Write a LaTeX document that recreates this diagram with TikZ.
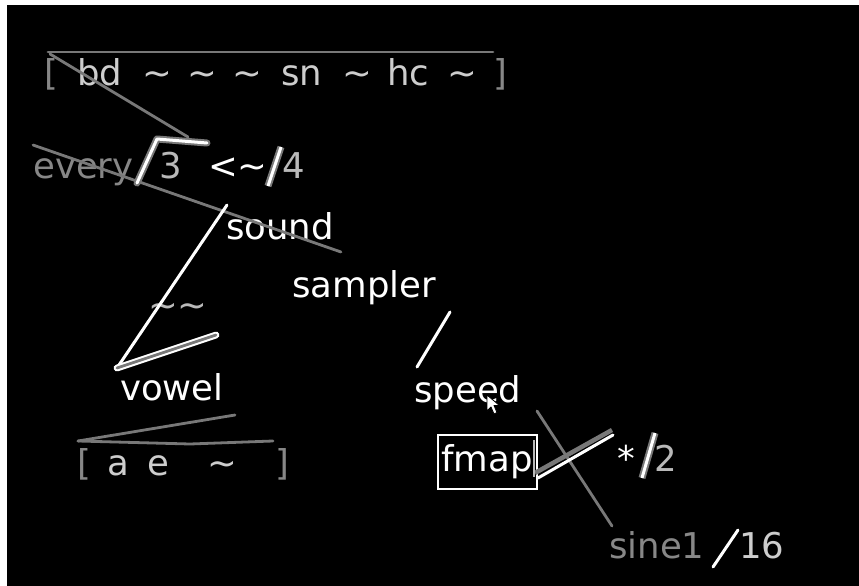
\documentclass[tikz,border=0pt]{standalone}
\usepackage{fontspec}
\setmainfont{DejaVu Sans}
\definecolor{lineg}{RGB}{120,120,120}
\definecolor{dimg}{RGB}{135,135,135}
\definecolor{midg}{RGB}{185,185,185}
\definecolor{lightg}{RGB}{205,205,205}
\tikzset{
  txt/.style={inner sep=0pt, anchor=base west, text=white, font=\fontsize{35.5}{40}\selectfont},
  dimtxt/.style={txt, text=dimg},
  midtxt/.style={txt, text=midg},
  lighttxt/.style={txt, text=lightg},
  gline/.style={draw=lineg, line width=2.8pt, line cap=round},
  wline/.style={draw=white, line width=3pt, line cap=round},
  dbl/.style={draw=lineg, line width=2pt, double=white, double distance=3pt},
  dblg/.style={draw=white, line width=2pt, double=lineg, double distance=2.8pt},
}
\begin{document}
\begin{tikzpicture}[x=1pt,y=-1pt]
\useasboundingbox (0,0) rectangle (859,586);
\fill[white] (0,0) rectangle (859,586);
\fill[black] (7,5) rectangle (859,586);

% top pattern
\node[dimtxt] (lb1) at (44,85) {[};
\node[lighttxt] (bd) at (77,85) {bd};
\node[lighttxt] (t1) at (142,85) {\char`\~};
\node[lighttxt] (t2) at (187,85) {\char`\~};
\node[lighttxt] (t3) at (232,85) {\char`\~};
\node[lighttxt] (sn) at (281,85) {sn};
\node[lighttxt] (t4) at (342,85) {\char`\~};
\node[lighttxt] (hc) at (387,85) {hc};
\node[lighttxt] (t5) at (447,85) {\char`\~};
\node[dimtxt] (rb1) at (493,85) {]};

% every row
\node[dimtxt] (every) at (33,178) {every};
\node[midtxt] (three) at (159,178) {3};
\node[txt] (lt) at (208,178) {<\char`\~};
\node[midtxt] (four) at (282,178) {4};

\node[txt] (sound) at (226,239) {sound};
\node[midtxt] (tt) at (148,317) {\char`\~\char`\~};
\node[txt] (sampler) at (292,297) {sampler};
\node[txt] (vowel) at (120,400) {vowel};
\node[txt] (speed) at (414,402) {speed};

\node[draw=white, line width=2pt, minimum width=99pt, minimum height=54pt, inner sep=0pt] (fbox) at (487.5,461.5) {};
\node[txt] (fmap) at (441,471) {fmap};
\node[txt] (star) at (617,471) {*};
\node[midtxt] (two) at (654,471) {2};

\node[dimtxt] (sine) at (609,558) {sine1};
\node[lighttxt] (sixteen) at (739,558) {16};

% bottom-left pattern
\node[dimtxt] (lb2) at (77,475) {[};
\node[lighttxt] (a) at (107,475) {a};
\node[lighttxt] (e) at (147,475) {e};
\node[lighttxt] (t6) at (207,475) {\char`\~};
\node[dimtxt] (rb2) at (275,475) {]};

% coordinates
\coordinate (p1) at (48,52);
\coordinate (p2) at (493,52);
\coordinate (p3) at (50,54);
\coordinate (h1) at (137,183);
\coordinate (h2) at (157,139);
\coordinate (h3) at (207,143);
\coordinate (h4) at (188,137);
\coordinate (s1) at (268,186);
\coordinate (s2) at (281,147);
\coordinate (q1) at (33,145);
\coordinate (q2) at (341,252);
\coordinate (v0) at (227,205);
\coordinate (v1) at (117,368);
\coordinate (v2) at (216,335);
\coordinate (r1) at (450,312);
\coordinate (r2) at (417,367);
\coordinate (c1) at (537,411);
\coordinate (c2) at (612,526);
\coordinate (m1) at (535,473);
\coordinate (m2) at (612,430);
\coordinate (n1) at (538,478);
\coordinate (n2) at (613,435);
\coordinate (k1) at (534,440);
\coordinate (k2) at (534,477);
\coordinate (d1) at (642,478);
\coordinate (d2) at (655,433);
\coordinate (u1) at (713,567);
\coordinate (u2) at (738,530);
\coordinate (b1) at (78,441);
\coordinate (b2) at (235,415);
\coordinate (b3) at (190,444);
\coordinate (b4) at (273,441);

% lines
\draw[gline] (p1) -- (p2);
\draw[gline] (p3) -- (h4);
\draw[gline] (q1) -- (q2);
\draw[dbl, line cap=round, line join=round] (h1) -- (h2) -- (h3);
\draw[dbl] (s1) -- (s2);
\draw[wline] (v0) -- (v1);
\draw[dblg, line cap=round] (v1) -- (v2);
\draw[wline] (r1) -- (r2);
\draw[gline] (c1) -- (c2);
\draw[draw=lineg, line width=4.5pt] (m1) -- (m2);
\draw[wline] (n1) -- (n2);
\draw[draw=midg, line width=2.5pt] (k1) -- (k2);
\draw[dbl] (d1) -- (d2);
\draw[wline] (u1) -- (u2);
\draw[gline] (b1) -- (b2);
\draw[gline] (b1) -- (b3) -- (b4);

% mouse pointer
\coordinate (cur) at (487,395);
\filldraw[fill=white, draw=black, line width=0.8pt, line join=round]
  (cur) -- ++(0,16) -- ++(4,-4) -- ++(3,7) -- ++(3,-1.5) -- ++(-3,-7) -- ++(5.5,0) -- cycle;
\end{tikzpicture}
\end{document}
